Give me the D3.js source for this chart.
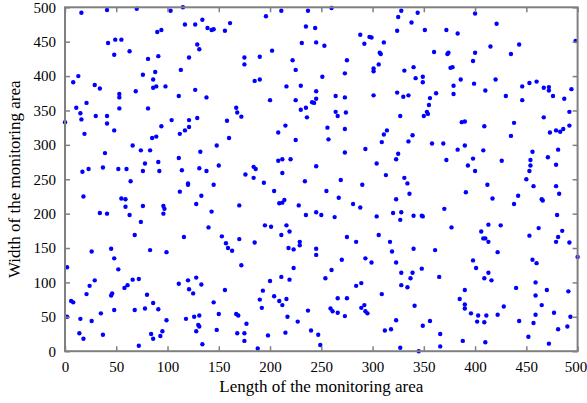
<!DOCTYPE html>
<html>
<head>
<meta charset="utf-8">
<script src="https://d3js.org/d3.v7.min.js"></script>
<style>
  body { margin: 0; background: #fff; }
  svg { display: block; }
  .tick text { font-family: "Liberation Serif", "Times New Roman", serif; font-size: 15px; fill: #000; }
  .title { font-family: "Liberation Serif", "Times New Roman", serif; font-size: 17px; fill: #000; }
</style>
</head>
<body>
<svg id="chart" width="587" height="403"></svg>
<script>
// Dáta ------------------------------------------------------------
const xTicks = [0, 50, 100, 150, 200, 250, 300, 350, 400, 450, 500];
const yTicks = [0, 50, 100, 150, 200, 250, 300, 350, 400, 450, 500];
const xTitle = "Length of the monitoring area";
const yTitle = "Width of the monitoring area";

// súradnice senzorov [x, y]
const sensors = [
  [16,492],[41,496],[70,498],[103,495],[115,500],[117,475],[90,464],[94,467],[42,448],[49,453],
  [55,453],[63,436],[48,431],[81,425],[91,429],[121,427],[113,409],[88,406],[76,402],[86,395],
  [13,400],[8,391],[29,387],[34,382],[89,385],[86,383],[98,385],[69,378],[53,374],[53,369],
  [111,371],[21,361],[11,354],[15,346],[53,353],[81,353],[30,342],[41,342],[16,337],
  [127,475],[134,482],[139,470],[143,467],[145,468],[156,466],[161,477],[196,487],[211,495],[237,495],
  [235,472],[244,470],[129,446],[131,439],[231,448],[245,449],[253,444],[175,427],[175,417],[190,428],
  [202,437],[222,423],[225,409],[251,399],[185,393],[190,395],[127,380],[138,369],[216,385],[230,386],
  [245,378],[200,365],[225,365],[241,362],[243,361],[245,367],[167,354],[168,347],[172,341],[230,351],
  [235,354],[236,340],[129,339],
  [260,499],[328,495],[344,492],[325,486],[338,478],[324,466],[351,467],[372,467],[288,460],[297,457],
  [299,456],[292,447],[311,449],[307,434],[308,432],[275,423],[360,435],[373,432],[374,434],[306,417],
  [301,411],[301,407],[273,404],[331,408],[340,413],[342,397],[349,399],[349,391],[376,412],[378,413],
  [379,386],[379,374],[264,371],[273,369],[301,372],[324,376],[330,370],[335,372],[356,368],[362,375],
  [355,358],[264,348],[266,342],[274,347],[327,342],[350,342],[353,348],[354,345],
  [400,491],[421,476],[383,462],[498,451],[415,443],[443,446],[400,434],[435,432],[398,422],[386,395],
  [399,389],[420,395],[410,379],[430,371],[446,385],[453,390],[460,392],[467,383],[472,384],[472,379],
  [476,371],[494,381],[487,367],[446,365],[492,348],[467,340],
  [0,333],[41,331],[48,321],[19,316],[104,336],[121,336],[94,327],[112,316],[117,321],[121,326],
  [85,310],[89,312],[66,299],[74,292],[83,292],[39,288],[78,273],[91,275],[111,281],[23,265],
  [17,261],[37,267],[52,265],[60,265],[76,262],[92,262],[114,263],[64,247],[120,244],[120,242],
  [112,232],[18,225],[55,222],[59,221],[59,210],[76,211],[96,211],[97,207],[34,201],[41,200],
  [63,198],[96,200],[74,188],[68,169],[116,166],
  [158,335],[215,328],[208,318],[160,310],[148,299],[225,307],[132,290],[131,266],[138,262],[150,270],
  [208,277],[212,279],[220,279],[184,268],[186,265],[176,257],[184,252],[212,259],[245,269],[145,242],
  [194,245],[234,247],[204,233],[133,226],[128,214],[209,215],[212,216],[214,220],[170,212],[228,212],
  [143,203],[235,198],[245,202],[250,198],[140,180],[195,183],[201,181],[216,183],[211,169],[219,174],
  [153,167],
  [256,325],[273,323],[257,308],[311,315],[314,321],[339,314],[335,305],[309,304],[358,302],[369,302],
  [273,289],[293,294],[325,287],[323,279],[372,278],[304,273],[313,256],[331,252],[334,244],[269,249],
  [290,242],[255,233],[336,229],[267,223],[323,221],[281,214],[288,209],[370,207],[320,201],[328,202],
  [263,195],[304,196],[340,197],[348,197],[349,196],[327,191],[377,180],[275,166],[306,169],
  [387,333],[390,334],[409,327],[438,332],[435,313],[473,318],[479,321],[483,319],[486,323],[492,328],
  [383,293],[390,299],[408,292],[456,290],[481,293],[398,280],[426,277],[471,282],[393,270],[454,278],
  [454,270],[479,271],[400,262],[453,262],[450,250],[412,242],[457,240],[479,240],[391,231],[442,226],
  [417,222],[465,221],[466,219],[482,229],[438,214],[480,198],[406,174],[413,184],[425,183],[462,179],
  [485,175],[453,168],[481,166],
  [26,145],[45,149],[83,147],[99,144],[48,135],[2,122],[52,119],[24,95],[29,103],[58,92],
  [61,96],[66,104],[72,105],[111,98],[120,103],[121,90],[21,83],[45,81],[46,84],[6,73],
  [8,71],[80,82],[86,70],[91,61],[78,62],[68,60],[48,60],[35,55],[2,50],[15,47],
  [26,44],[99,45],[118,47],[14,26],[18,18],[37,24],[84,25],[86,18],[93,22],[95,29],
  [72,8],
  [170,163],[185,158],[157,157],[159,150],[163,146],[229,159],[229,154],[218,150],[223,148],[245,149],
  [245,140],[172,125],[223,121],[128,107],[133,97],[125,84],[156,89],[200,102],[211,108],[219,104],
  [193,88],[190,75],[192,63],[204,80],[209,73],[212,67],[216,76],[145,71],[126,50],[131,52],
  [150,54],[167,54],[169,52],[130,38],[131,36],[128,29],[148,31],[177,40],[168,26],[175,26],
  [175,15],[198,23],[217,50],[227,43],[237,59],[215,27],[240,30],[247,24],[134,10],[188,4],
  [249,9],
  [284,159],[317,159],[319,145],[340,149],[361,147],[270,133],[293,135],[299,129],[323,129],[260,118],
  [254,106],[328,114],[339,114],[337,106],[348,120],[365,108],[284,95],[289,99],[328,96],[334,93],
  [309,83],[266,77],[275,77],[259,62],[261,58],[266,56],[289,63],[292,67],[293,58],[295,55],
  [273,51],[341,66],[323,45],[312,30],[318,32],[349,37],[356,44],[366,25],[327,5],[345,0],
  [366,7],
  [408,164],[410,164],[413,159],[479,159],[492,158],[422,144],[398,132],[401,121],[456,133],[460,128],
  [500,137],[413,114],[409,106],[416,103],[459,100],[390,89],[440,92],[470,89],[491,87],[385,76],
  [459,81],[390,68],[390,62],[428,65],[465,67],[396,55],[403,52],[411,52],[422,53],[459,53],
  [477,56],[493,50],[402,43],[409,42],[443,44],[457,41],[481,32],[490,36],[452,21],[388,15],
  [410,13],[472,11]
];
// ------------------------------------------------------------

const svg = d3.select("#chart");
const width = 587, height = 403;
const margin = { top: 7.3, right: 9.4, bottom: 51.8, left: 65 };

const x = d3.scaleLinear().domain([0, 500]).range([margin.left, width - margin.right]);
const y = d3.scaleLinear().domain([0, 500]).range([height - margin.bottom, margin.top]);

const axisColor = "#808080";

// body (senzory)
svg.append("g")
  .selectAll("circle")
  .data(sensors)
  .join("circle")
  .attr("cx", d => x(d[0]))
  .attr("cy", d => y(d[1]))
  .attr("r", 2.2)
  .attr("fill", "#0000ff");

// osi - ticky smerujú dovnútra
function styleAxis(g) {
  g.select(".domain").remove();
  g.selectAll(".tick line").attr("stroke", axisColor).attr("stroke-width", 1.5);
}

const xAxisG = svg.append("g")
  .attr("transform", `translate(0,${y(0)})`)
  .call(d3.axisBottom(x).tickValues(xTicks).tickSizeInner(-5).tickSizeOuter(0).tickPadding(10))
  .call(styleAxis);

// posledný popis "500" trochu doľava, aby sa zmestil
xAxisG.selectAll(".tick text").filter(d => d === 500).attr("dx", "-2");

svg.append("g")
  .attr("transform", `translate(0,${y(500)})`)
  .call(d3.axisTop(x).tickValues(xTicks).tickSizeInner(-5).tickSizeOuter(0).tickFormat(""))
  .call(styleAxis);

svg.append("g")
  .attr("transform", `translate(${x(0)},0)`)
  .call(d3.axisLeft(y).tickValues(yTicks).tickSizeInner(-5).tickSizeOuter(0).tickPadding(9))
  .call(styleAxis);

svg.append("g")
  .attr("transform", `translate(${x(500)},0)`)
  .call(d3.axisRight(y).tickValues(yTicks).tickSizeInner(-5).tickSizeOuter(0).tickFormat(""))
  .call(styleAxis);

// rámik
svg.append("rect")
  .attr("x", x(0)).attr("y", y(500))
  .attr("width", x(500) - x(0)).attr("height", y(0) - y(500))
  .attr("fill", "none")
  .attr("stroke", axisColor)
  .attr("stroke-width", 2);

// názvy osí
svg.append("text")
  .attr("class", "title")
  .attr("x", (x(0) + x(500)) / 2)
  .attr("y", 392)
  .attr("text-anchor", "middle")
  .text(xTitle);

svg.append("text")
  .attr("class", "title")
  .attr("transform", `translate(20,${(y(0) + y(500)) / 2}) rotate(-90)`)
  .attr("text-anchor", "middle")
  .text(yTitle);
</script>
</body>
</html>
